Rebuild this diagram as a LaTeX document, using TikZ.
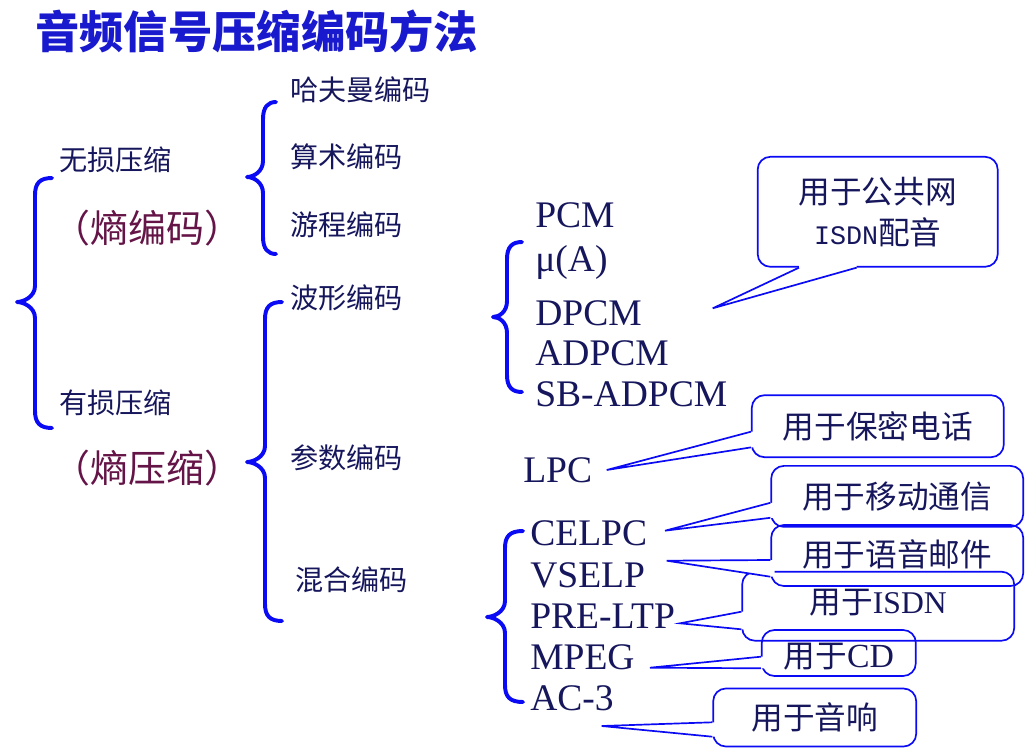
\documentclass[tikz,border=0pt]{standalone}
\usepackage{fontspec}
\setmainfont{Liberation Serif}
\setmonofont{Liberation Mono}
\newfontfamily\cjk{Noto Sans CJK SC}
\usetikzlibrary{calc}

\definecolor{titleblue}{RGB}{25,25,205}
\definecolor{ink}{RGB}{22,22,92}
\definecolor{plum}{RGB}{100,20,70}
\definecolor{lineblue}{RGB}{10,10,245}

\newlength{\px}
\setlength{\px}{0.025cm}

\newcommand{\cbrace}[6]{%
  \draw[bracket] (#1,#4) .. controls (#2+5,#4) and (#2,#4+5) .. (#2,#4+17)
    -- (#2,#5-16) .. controls (#2,#5-5) and (#3+6,#5) .. (#3,#5)
    .. controls (#3+6,#5) and (#2,#5+5) .. (#2,#5+16)
    -- (#2,#6-17) .. controls (#2,#6-5) and (#2+5,#6) .. (#1,#6);}

\newcommand{\calltail}[4]{%
  \fill[white] (#1) -- (#2) -- (#3) -- ([#4]#3) -- ([#4]#1) -- cycle;
  \draw[tail] (#1) -- (#2) -- (#3);}

\newcommand{\nudge}[2]{\raisebox{#1\px}[\height][\depth]{#2}}

\begin{document}
\begin{tikzpicture}[x=0.025cm, y=-0.025cm,
    heading/.style={anchor=west, inner sep=0pt, text=titleblue, font=\cjk\bfseries\fontsize{31.5}{36}\selectfont},
    item/.style={anchor=west, inner sep=0pt, text=ink, font=\cjk\fontsize{20}{24}\selectfont},
    entropy/.style={anchor=west, inner sep=0pt, text=plum, font=\cjk\fontsize{27}{32}\selectfont},
    codec/.style={anchor=west, inner sep=0pt, text=ink, font=\fontsize{26.7}{30}\selectfont},
    bracket/.style={draw=lineblue, line width=2.8pt, line cap=round, line join=round},
    callout/.style={draw=lineblue, line width=1.2pt, rounded corners=9pt, inner sep=0pt, text=ink, align=center, font=\cjk\fontsize{22.5}{29}\selectfont},
    tail/.style={draw=lineblue, line width=1.2pt}]

\useasboundingbox (0,0) rectangle (1032,755);

\node[heading] (title) at (35,31) {音频信号压缩编码方法};

\node[item] (lossless) at (59,160) {无损压缩};
\node[entropy] (entcode) at (52,228) {（熵编码）};
\node[item] (lossy) at (59,403) {有损压缩};
\node[entropy] (entcomp) at (52,468) {（熵压缩）};

\node[item] (huffman) at (290,90) {哈夫曼编码};
\node[item] (arith) at (290,157) {算术编码};
\node[item] (runlen) at (290,225) {游程编码};
\node[item] (wave) at (290,298) {波形编码};
\node[item] (param) at (290,458) {参数编码};
\node[item] (hybrid) at (295,580) {混合编码};

\node[codec] (pcm) at (535,215) {PCM};
\node[codec] (mulaw) at (535,262) {μ(A)};
\node[codec] (dpcm) at (535,313) {DPCM};
\node[codec] (adpcm) at (535,353) {ADPCM};
\node[codec] (sbadpcm) at (535,394) {SB-ADPCM};
\node[codec] (lpc) at (523,470) {LPC};
\node[codec] (celpc) at (530,533) {CELPC};
\node[codec] (vselp) at (530,575) {VSELP};
\node[codec] (preltp) at (530,616) {PRE-LTP};
\node[codec] (mpeg) at (530,657) {MPEG};
\node[codec] (ac3) at (530,698) {AC-3};

\cbrace{52}{35}{17}{178}{302}{428}
\cbrace{276}{263}{247}{102}{177}{254}
\cbrace{282}{265}{247}{302}{462}{621}
\cbrace{522}{507}{493}{242}{317}{392}
\cbrace{523}{505}{487}{531}{617}{702}

\node[callout, minimum width=240\px, minimum height=110\px] (pub) at (877.7,211.8) {用于公共网\\{\ttfamily\fontsize{19}{29}\selectfont ISDN}配音};
\node[callout, minimum width=252\px, minimum height=62\px] (secure) at (877.8,426.2) {用于保密电话};
\node[callout, minimum width=252\px, minimum height=61\px] (mobile) at (897.2,496.4) {用于移动通信};
\node[callout, minimum width=252\px, minimum height=61\px] (voicemail) at (897.2,555.5) {\nudge{1}{用于语音邮件}};
\node[callout, minimum width=272\px, minimum height=69\px] (isdn) at (878.2,606.2) {\nudge{4}{用于{\rmfamily ISDN}}};
\node[callout, minimum width=154\px, minimum height=46\px] (cd) at (838.8,653) {\nudge{-4}{用于{\rmfamily\fontsize{24}{29}\selectfont CD}}};
\node[callout, minimum width=203\px, minimum height=58\px] (audio) at (814.7,717.5) {用于音响};

\coordinate (t1) at (712.7,308.3);
\coordinate (t2) at (606.7,470);
\coordinate (t3) at (665,530.7);
\coordinate (t4) at (666.7,560.7);
\coordinate (t5) at (680,623.3);
\coordinate (t6) at (650,667.7);
\coordinate (t7) at (601.7,726);

\coordinate (p1a) at ($(pub.south)+(-78.7,0)$);
\coordinate (p1b) at ($(pub.south)+(-21,0)$);
\coordinate (p2a) at ($(secure.west)+(0,5.5)$);
\coordinate (p2b) at ($(secure.west)+(0,21.2)$);
\coordinate (p3a) at ($(mobile.west)+(0,6.4)$);
\coordinate (p3b) at ($(mobile.west)+(0,21.4)$);
\coordinate (p4a) at ($(voicemail.west)+(0,4.5)$);
\coordinate (p4b) at ($(voicemail.west)+(0,21.2)$);
\coordinate (p5a) at ($(isdn.west)+(0,5.5)$);
\coordinate (p5b) at ($(isdn.west)+(0,23.1)$);
\coordinate (p6a) at ($(cd.west)+(0,3.7)$);
\coordinate (p6b) at ($(cd.west)+(0,15.3)$);
\coordinate (p7a) at ($(audio.west)+(0,4.8)$);
\coordinate (p7b) at ($(audio.west)+(0,19.2)$);

\calltail{p1a}{t1}{p1b}{yshift=3pt}
\calltail{p2a}{t2}{p2b}{xshift=3pt}
\calltail{p3a}{t3}{p3b}{xshift=3pt}
\calltail{p4a}{t4}{p4b}{xshift=3pt}
\calltail{p5a}{t5}{p5b}{xshift=3pt}
\calltail{p6a}{t6}{p6b}{xshift=3pt}
\calltail{p7a}{t7}{p7b}{xshift=3pt}
\end{tikzpicture}
\end{document}
